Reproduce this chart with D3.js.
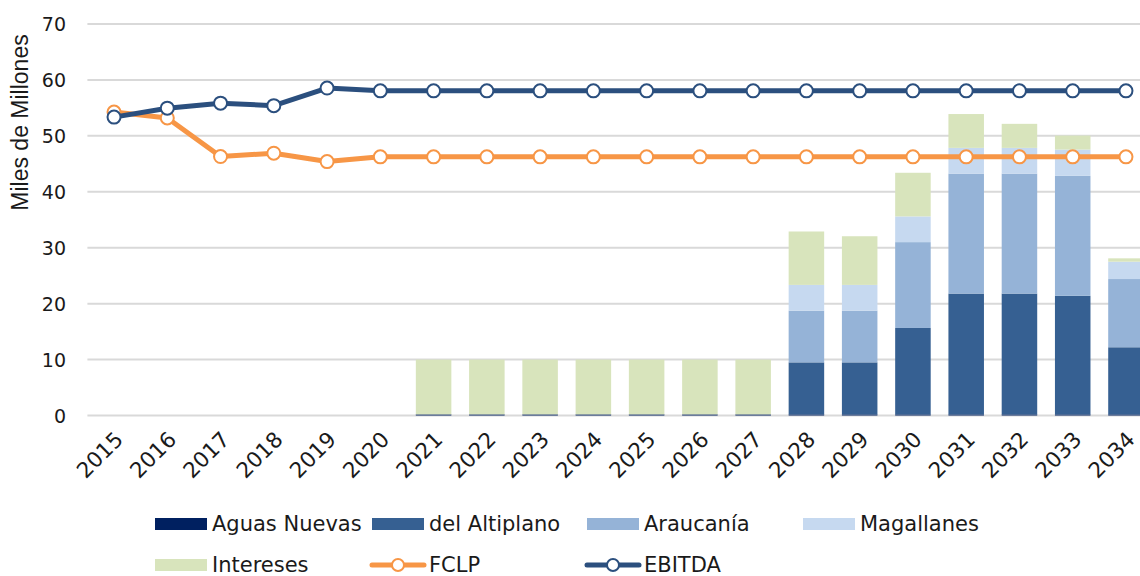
<!DOCTYPE html>
<html>
<head>
<meta charset="utf-8">
<script src="https://cdn.jsdelivr.net/npm/d3@7"></script>
<style>
  html, body { margin: 0; padding: 0; background: #fff; }
  svg { display: block; }
  text { font-family: "DejaVu Sans", Verdana, sans-serif; fill: #1a1a1a; }
</style>
</head>
<body>
<svg id="chart" width="1140" height="576"></svg>
<script>
const years = ["2015","2016","2017","2018","2019","2020","2021","2022","2023","2024","2025","2026","2027","2028","2029","2030","2031","2032","2033","2034"];
const aguasNuevas  = [0,0,0,0,0,0,0.2,0.2,0.2,0.2,0.2,0.2,0.2,0.2,0.2,0.2,0.2,0.2,0.2,0.2];
const delAltiplano = [0,0,0,0,0,0,0,0,0,0,0,0,0,9.3,9.3,15.45,21.6,21.6,21.2,12.0];
const araucania    = [0,0,0,0,0,0,0,0,0,0,0,0,0,9.25,9.25,15.35,21.45,21.45,21.45,12.2];
const magallanes   = [0,0,0,0,0,0,0,0,0,0,0,0,0,4.6,4.6,4.6,4.6,4.6,4.7,3.1];
const intereses    = [0,0,0,0,0,0,9.8,9.8,9.8,9.8,9.8,9.8,9.8,9.55,8.7,7.8,6.05,4.3,2.5,0.6];
const fclp   = [54.25,53.2,46.3,46.9,45.4,46.25,46.25,46.25,46.25,46.25,46.25,46.25,46.25,46.25,46.25,46.25,46.25,46.25,46.25,46.25];
const ebitda = [53.35,54.95,55.85,55.4,58.55,58.05,58.05,58.05,58.05,58.05,58.05,58.05,58.05,58.05,58.05,58.05,58.05,58.05,58.05,58.05];
const yTicks = [0,10,20,30,40,50,60,70];
const yTitle = "Miles de Millones";

const seriesNames = ["Aguas Nuevas","del Altiplano","Araucanía","Magallanes","Intereses"];
const seriesVals = [aguasNuevas, delAltiplano, araucania, magallanes, intereses];
const colors = ["#002060","#366092","#95b3d7","#c6d9f0","#d8e4bc"];
const fclpColor = "#f79646", ebitdaColor = "#2b4f7e";

const svg = d3.select("#chart");
const x = d3.scaleBand().domain(years).range([87.4, 1152.6]).paddingInner(0.333).paddingOuter(0.1665);
const xc = d => x(d) + x.bandwidth() / 2;
const y = d3.scaleLinear().domain([0, 70]).range([415.5, 24]);

// gridlines
svg.append("g").selectAll("line").data(yTicks).join("line")
  .attr("x1", 87.4).attr("x2", 1152.6)
  .attr("y1", d => y(d)).attr("y2", d => y(d))
  .attr("stroke", "#d9d9d9").attr("stroke-width", 2);

// y axis labels
const yAxis = d3.axisLeft(y).tickValues(yTicks).tickSize(0).tickPadding(0);
const gy = svg.append("g").attr("transform", "translate(66,0)").call(yAxis);
gy.select(".domain").remove();
gy.selectAll("text").attr("font-size", 19).attr("font-family", "DejaVu Sans").attr("fill", "#1a1a1a").attr("dy", "0.36em");

// y title
svg.append("text")
  .attr("transform", "translate(28,122.5) rotate(-90)")
  .attr("text-anchor", "middle")
  .style("font-family", "'Liberation Sans', Arial, sans-serif")
  .attr("font-size", 23)
  .text(yTitle);

// x axis labels
const xAxis = d3.axisBottom(x).tickSize(0).tickPadding(0);
const gx = svg.append("g").attr("transform", "translate(0,415.5)").call(xAxis);
gx.select(".domain").remove();
gx.selectAll("text")
  .attr("font-size", 21.5).attr("font-family", "DejaVu Sans").attr("fill", "#1a1a1a")
  .attr("text-anchor", "end")
  .attr("y", 0).attr("x", 0)
  .attr("transform", "translate(5,20) rotate(-45)")
  .attr("dy", "0.35em");

// stacked bars
const table = years.map((yr, i) => {
  const o = { year: yr };
  seriesNames.forEach((s, k) => o[s] = seriesVals[k][i]);
  return o;
});
const stack = d3.stack().keys(seriesNames)(table);
svg.append("g").selectAll("g").data(stack).join("g")
  .attr("fill", (d, i) => colors[i])
  .selectAll("rect").data(d => d).join("rect")
  .attr("x", d => x(d.data.year))
  .attr("width", x.bandwidth())
  .attr("y", d => y(d[1]))
  .attr("height", d => Math.max(0, y(d[0]) - y(d[1])));

// lines
function drawLine(vals, color) {
  const line = d3.line().x((d, i) => xc(years[i])).y(d => y(d));
  svg.append("path").datum(vals).attr("d", line)
    .attr("fill", "none").attr("stroke", color).attr("stroke-width", 5)
    .attr("stroke-linejoin", "round").attr("stroke-linecap", "round");
  svg.append("g").selectAll("circle").data(vals).join("circle")
    .attr("cx", (d, i) => xc(years[i])).attr("cy", d => y(d))
    .attr("r", 6.5).attr("fill", "#fff").attr("stroke", color).attr("stroke-width", 2);
}
drawLine(fclp, fclpColor);
drawLine(ebitda, ebitdaColor);

// legend
const legendItems = [
  { name: "Aguas Nuevas", type: "rect", color: colors[0], x: 155, y: 524 },
  { name: "del Altiplano", type: "rect", color: colors[1], x: 372, y: 524 },
  { name: "Araucanía", type: "rect", color: colors[2], x: 587, y: 524 },
  { name: "Magallanes", type: "rect", color: colors[3], x: 803, y: 524 },
  { name: "Intereses", type: "rect", color: colors[4], x: 155, y: 565 },
  { name: "FCLP", type: "line", color: fclpColor, x: 372, y: 565 },
  { name: "EBITDA", type: "line", color: ebitdaColor, x: 587, y: 565 }
];
const lg = svg.append("g").selectAll("g").data(legendItems).join("g")
  .attr("transform", d => `translate(${d.x},${d.y})`);
lg.filter(d => d.type === "rect").append("rect")
  .attr("x", 0).attr("y", -6).attr("width", 52).attr("height", 12).attr("fill", d => d.color);
lg.filter(d => d.type === "line").append("line")
  .attr("x1", 0).attr("x2", 52).attr("y1", 0).attr("y2", 0)
  .attr("stroke", d => d.color).attr("stroke-width", 5).attr("stroke-linecap", "round");
lg.filter(d => d.type === "line").append("circle")
  .attr("cx", 26).attr("cy", 0).attr("r", 6).attr("fill", "#fff")
  .attr("stroke", d => d.color).attr("stroke-width", 2);
lg.append("text").attr("x", 57).attr("y", 0).attr("dy", "0.33em")
  .attr("font-size", 21).text(d => d.name);
</script>
</body>
</html>
